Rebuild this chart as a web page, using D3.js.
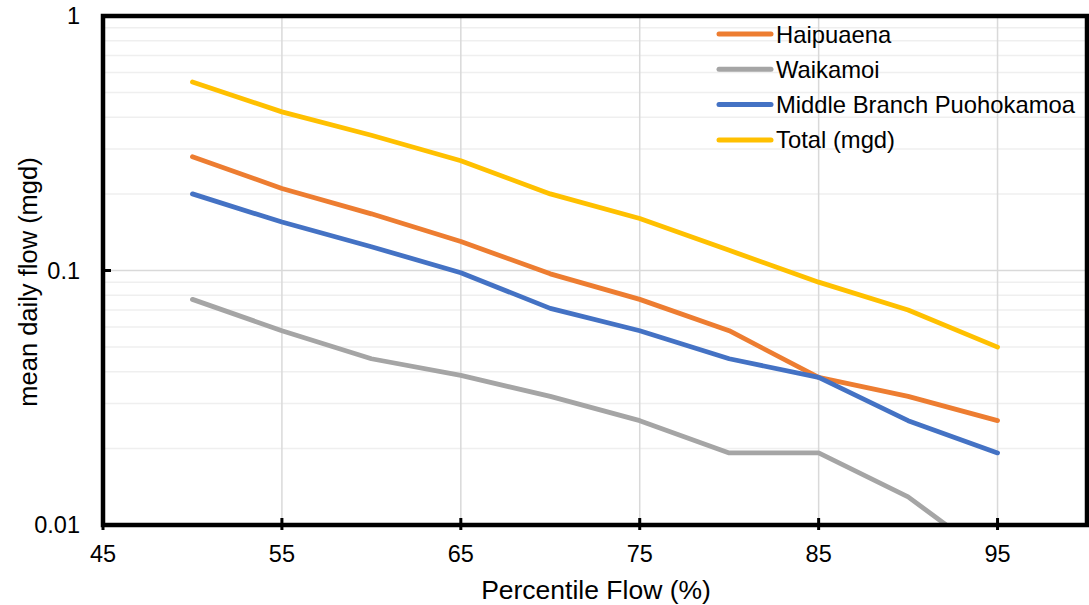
<!DOCTYPE html>
<meta charset="utf-8">
<style>
body { margin: 0; background: #fff; }
svg { font-family: "Liberation Sans", Arial, sans-serif; }
</style>
<body>
<svg id="chart" width="1089" height="605"></svg>
</body>
<script src="https://d3js.org/d3.v7.min.js"></script>
<script>
// Data
var percentiles = [50, 55, 60, 65, 70, 75, 80, 85, 90, 95];
var haipuaena = [0.28, 0.21, 0.167, 0.13, 0.097, 0.077, 0.058, 0.038, 0.032, 0.0257];
var waikamoi = [0.077, 0.058, 0.045, 0.0387, 0.032, 0.0257, 0.0192, 0.0192, 0.0129, 0.0071];
var middleBranch = [0.2, 0.155, 0.124, 0.098, 0.071, 0.058, 0.045, 0.038, 0.0257, 0.0192];
var total = [0.55, 0.42, 0.34, 0.27, 0.2, 0.16, 0.12, 0.09, 0.07, 0.05];
var seriesNames = ["Haipuaena", "Waikamoi", "Middle Branch Puohokamoa", "Total (mgd)"];
var seriesColors = ["#ED7D31", "#A5A5A5", "#4472C4", "#FFC000"];
var xTicks = [45, 55, 65, 75, 85, 95];
var yTicks = [0.01, 0.1, 1];

(function () {
  var series = [haipuaena, waikamoi, middleBranch, total];

  var svg = d3.select("#chart"),
    pLeft = 103, pRight = 1087, pTop = 16, pBottom = 525;

  var x = d3.scaleLinear().domain([45, 100]).range([pLeft, pRight]);
  var y = d3.scaleLog().domain([0.01, 1]).range([pBottom, pTop]);

  // minor gridlines 2..9 in each decade
  var minor = [];
  [0.01, 0.1].forEach(function (d) {
    for (var k = 2; k <= 9; k++) minor.push(d * k);
  });

  svg.append("g").selectAll("line").data(minor).enter().append("line")
    .attr("x1", pLeft).attr("x2", pRight)
    .attr("y1", function (d) { return y(d); }).attr("y2", function (d) { return y(d); })
    .attr("stroke", "#efefef").attr("stroke-width", 1.5);

  svg.append("g").selectAll("line").data([0.1]).enter().append("line")
    .attr("x1", pLeft).attr("x2", pRight)
    .attr("y1", function (d) { return y(d); }).attr("y2", function (d) { return y(d); })
    .attr("stroke", "#d9d9d9").attr("stroke-width", 1.5);

  svg.append("g").selectAll("line").data(xTicks.slice(1)).enter().append("line")
    .attr("x1", function (d) { return x(d); }).attr("x2", function (d) { return x(d); })
    .attr("y1", pTop).attr("y2", pBottom)
    .attr("stroke", "#d9d9d9").attr("stroke-width", 1.5);

  // the lines, clipped to the plot area
  svg.append("clipPath").attr("id", "plotclip").append("rect")
    .attr("x", pLeft).attr("y", pTop).attr("width", pRight - pLeft).attr("height", pBottom - pTop);

  var line = d3.line()
    .x(function (d, i) { return x(percentiles[i]); })
    .y(function (d) { return y(d); });

  svg.append("g").attr("clip-path", "url(#plotclip)")
    .selectAll("path").data(series).enter().append("path")
    .attr("d", line)
    .attr("fill", "none")
    .attr("stroke", function (d, i) { return seriesColors[i]; })
    .attr("stroke-width", 4.8)
    .attr("stroke-linejoin", "round")
    .attr("stroke-linecap", "round");

  // frame
  svg.append("rect")
    .attr("x", pLeft).attr("y", pTop).attr("width", pRight - pLeft).attr("height", pBottom - pTop)
    .attr("fill", "none").attr("stroke", "#000").attr("stroke-width", 4.5);

  // ticks
  svg.append("g").selectAll("line").data(xTicks).enter().append("line")
    .attr("x1", function (d) { return x(d); }).attr("x2", function (d) { return x(d); })
    .attr("y1", pBottom - 7).attr("y2", pBottom + 5)
    .attr("stroke", "#000").attr("stroke-width", 3);

  svg.append("g").selectAll("line").data([0.1]).enter().append("line")
    .attr("x1", pLeft - 2).attr("x2", pLeft + 8)
    .attr("y1", function (d) { return y(d); }).attr("y2", function (d) { return y(d); })
    .attr("stroke", "#000").attr("stroke-width", 3);

  // tick labels
  svg.append("g").selectAll("text").data(xTicks).enter().append("text")
    .attr("x", function (d) { return x(d); }).attr("y", 562)
    .attr("text-anchor", "middle").attr("font-size", 23.5)
    .text(function (d) { return d; });

  svg.append("g").selectAll("text").data(yTicks).enter().append("text")
    .attr("x", 80).attr("y", function (d) { return y(d) + 8; })
    .attr("text-anchor", "end").attr("font-size", 23.5)
    .text(function (d) { return d; });

  // axis titles
  svg.append("text").attr("x", (pLeft + pRight) / 2 + 1).attr("y", 599)
    .attr("text-anchor", "middle").attr("font-size", 26.5)
    .text("Percentile Flow (%)");

  svg.append("text")
    .attr("transform", "translate(37,282) rotate(-90)")
    .attr("text-anchor", "middle").attr("font-size", 25.5)
    .text("mean daily flow (mgd)");

  // legend
  var legend = svg.append("g").selectAll("g").data(seriesNames).enter().append("g")
    .attr("transform", function (d, i) { return "translate(717," + (34 + i * 35.3) + ")"; });
  legend.append("line").attr("x1", 2).attr("x2", 54)
    .attr("stroke", function (d, i) { return seriesColors[i]; })
    .attr("stroke-width", 5).attr("stroke-linecap", "round");
  legend.append("text").attr("x", 59).attr("y", 8.5).attr("font-size", 23.8)
    .text(function (d) { return d; });
})();
</script>
